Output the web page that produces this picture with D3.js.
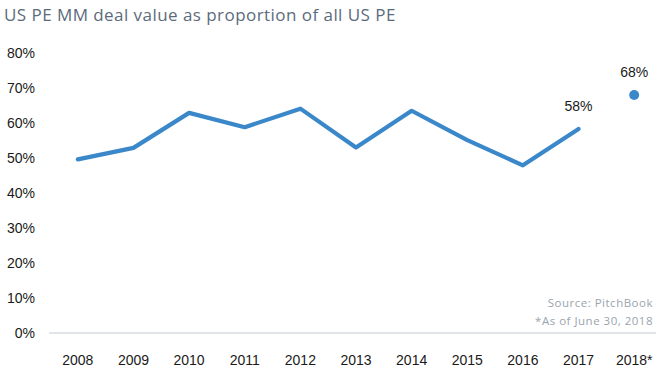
<!DOCTYPE html>
<html><head><meta charset="utf-8">
<script src="https://cdn.jsdelivr.net/npm/d3@7"></script>
<style>body{margin:0;background:#fff}svg{display:block}</style>
</head><body>
<svg id="c" width="669" height="369"></svg>
<script>
const years = ["2008","2009","2010","2011","2012","2013","2014","2015","2016","2017","2018*"];
const lineValues = [49.6, 52.9, 62.9, 58.8, 64.1, 53.0, 63.5, 55.1, 47.9, 58.3];
const partialYear = "2018*";
const partialValue = 68;
const yTicks = [0,10,20,30,40,50,60,70,80];
const labelled = [{year:"2017", value:58.3, text:"58%"},{year:"2018*", value:68, text:"68%"}];

const svg = d3.select("#c");
const x = d3.scaleBand().domain(years).range([50, 662]);
const y = d3.scaleLinear().domain([0, 80]).range([333, 53]);
const cx = d => x(d) + x.bandwidth()/2;
const blue = "#3a88c9";

svg.append("text").attr("x", 4).attr("y", 21)
  .attr("font-family", "'Open Sans', sans-serif").attr("font-size", 17)
  .attr("letter-spacing", 0.45)
  .attr("fill", "#5b6b7c").text("US PE MM deal value as proportion of all US PE");

// y axis labels
const ya = svg.append("g").attr("transform", "translate(35,0)")
  .call(d3.axisLeft(y).tickValues(yTicks).tickFormat(d => d + "%").tickSize(0).tickPadding(0));
ya.select(".domain").remove();
ya.selectAll("text").attr("font-family", "'Liberation Sans', Arial, sans-serif").attr("font-size", 14).attr("fill", "#1a1a1a");

// baseline
svg.append("line").attr("x1", 49).attr("x2", 656).attr("y1", y(0)).attr("y2", y(0))
  .attr("stroke", "#e1e5e9").attr("stroke-width", 2);

// x axis labels
const xa = svg.append("g").attr("transform", `translate(0,${y(0)})`)
  .call(d3.axisBottom(x).tickSize(0).tickPadding(22));
xa.select(".domain").remove();
xa.selectAll("text").attr("font-family", "'Liberation Sans', Arial, sans-serif").attr("font-size", 14).attr("fill", "#1a1a1a");

// line
const lineData = lineValues.map((v, i) => ({year: years[i], value: v}));
svg.append("path").datum(lineData)
  .attr("fill", "none").attr("stroke", blue).attr("stroke-width", 4.2)
  .attr("stroke-linejoin", "round").attr("stroke-linecap", "round")
  .attr("d", d3.line().x(d => cx(d.year)).y(d => y(d.value)));

svg.append("circle").attr("cx", cx(partialYear)).attr("cy", y(partialValue)).attr("r", 5).attr("fill", blue);

svg.selectAll(".lbl").data(labelled).enter().append("text")
  .attr("x", d => cx(d.year)).attr("y", d => y(d.value) - 18)
  .attr("text-anchor", "middle").attr("font-family", "'Liberation Sans', Arial, sans-serif")
  .attr("font-size", 14).attr("fill", "#1a1a1a").text(d => d.text);

// source
svg.append("text").attr("x", 653).attr("y", 307).attr("text-anchor", "end")
  .attr("font-family", "'Open Sans', sans-serif").attr("font-size", 11.5).attr("letter-spacing", 0.5)
  .attr("fill", "#9aa4ae").text("Source: PitchBook");
svg.append("text").attr("x", 653).attr("y", 325).attr("text-anchor", "end")
  .attr("font-family", "'Open Sans', sans-serif").attr("font-size", 11.5).attr("letter-spacing", 0.5)
  .attr("fill", "#9aa4ae").text("*As of June 30, 2018");
</script>
</body></html>
